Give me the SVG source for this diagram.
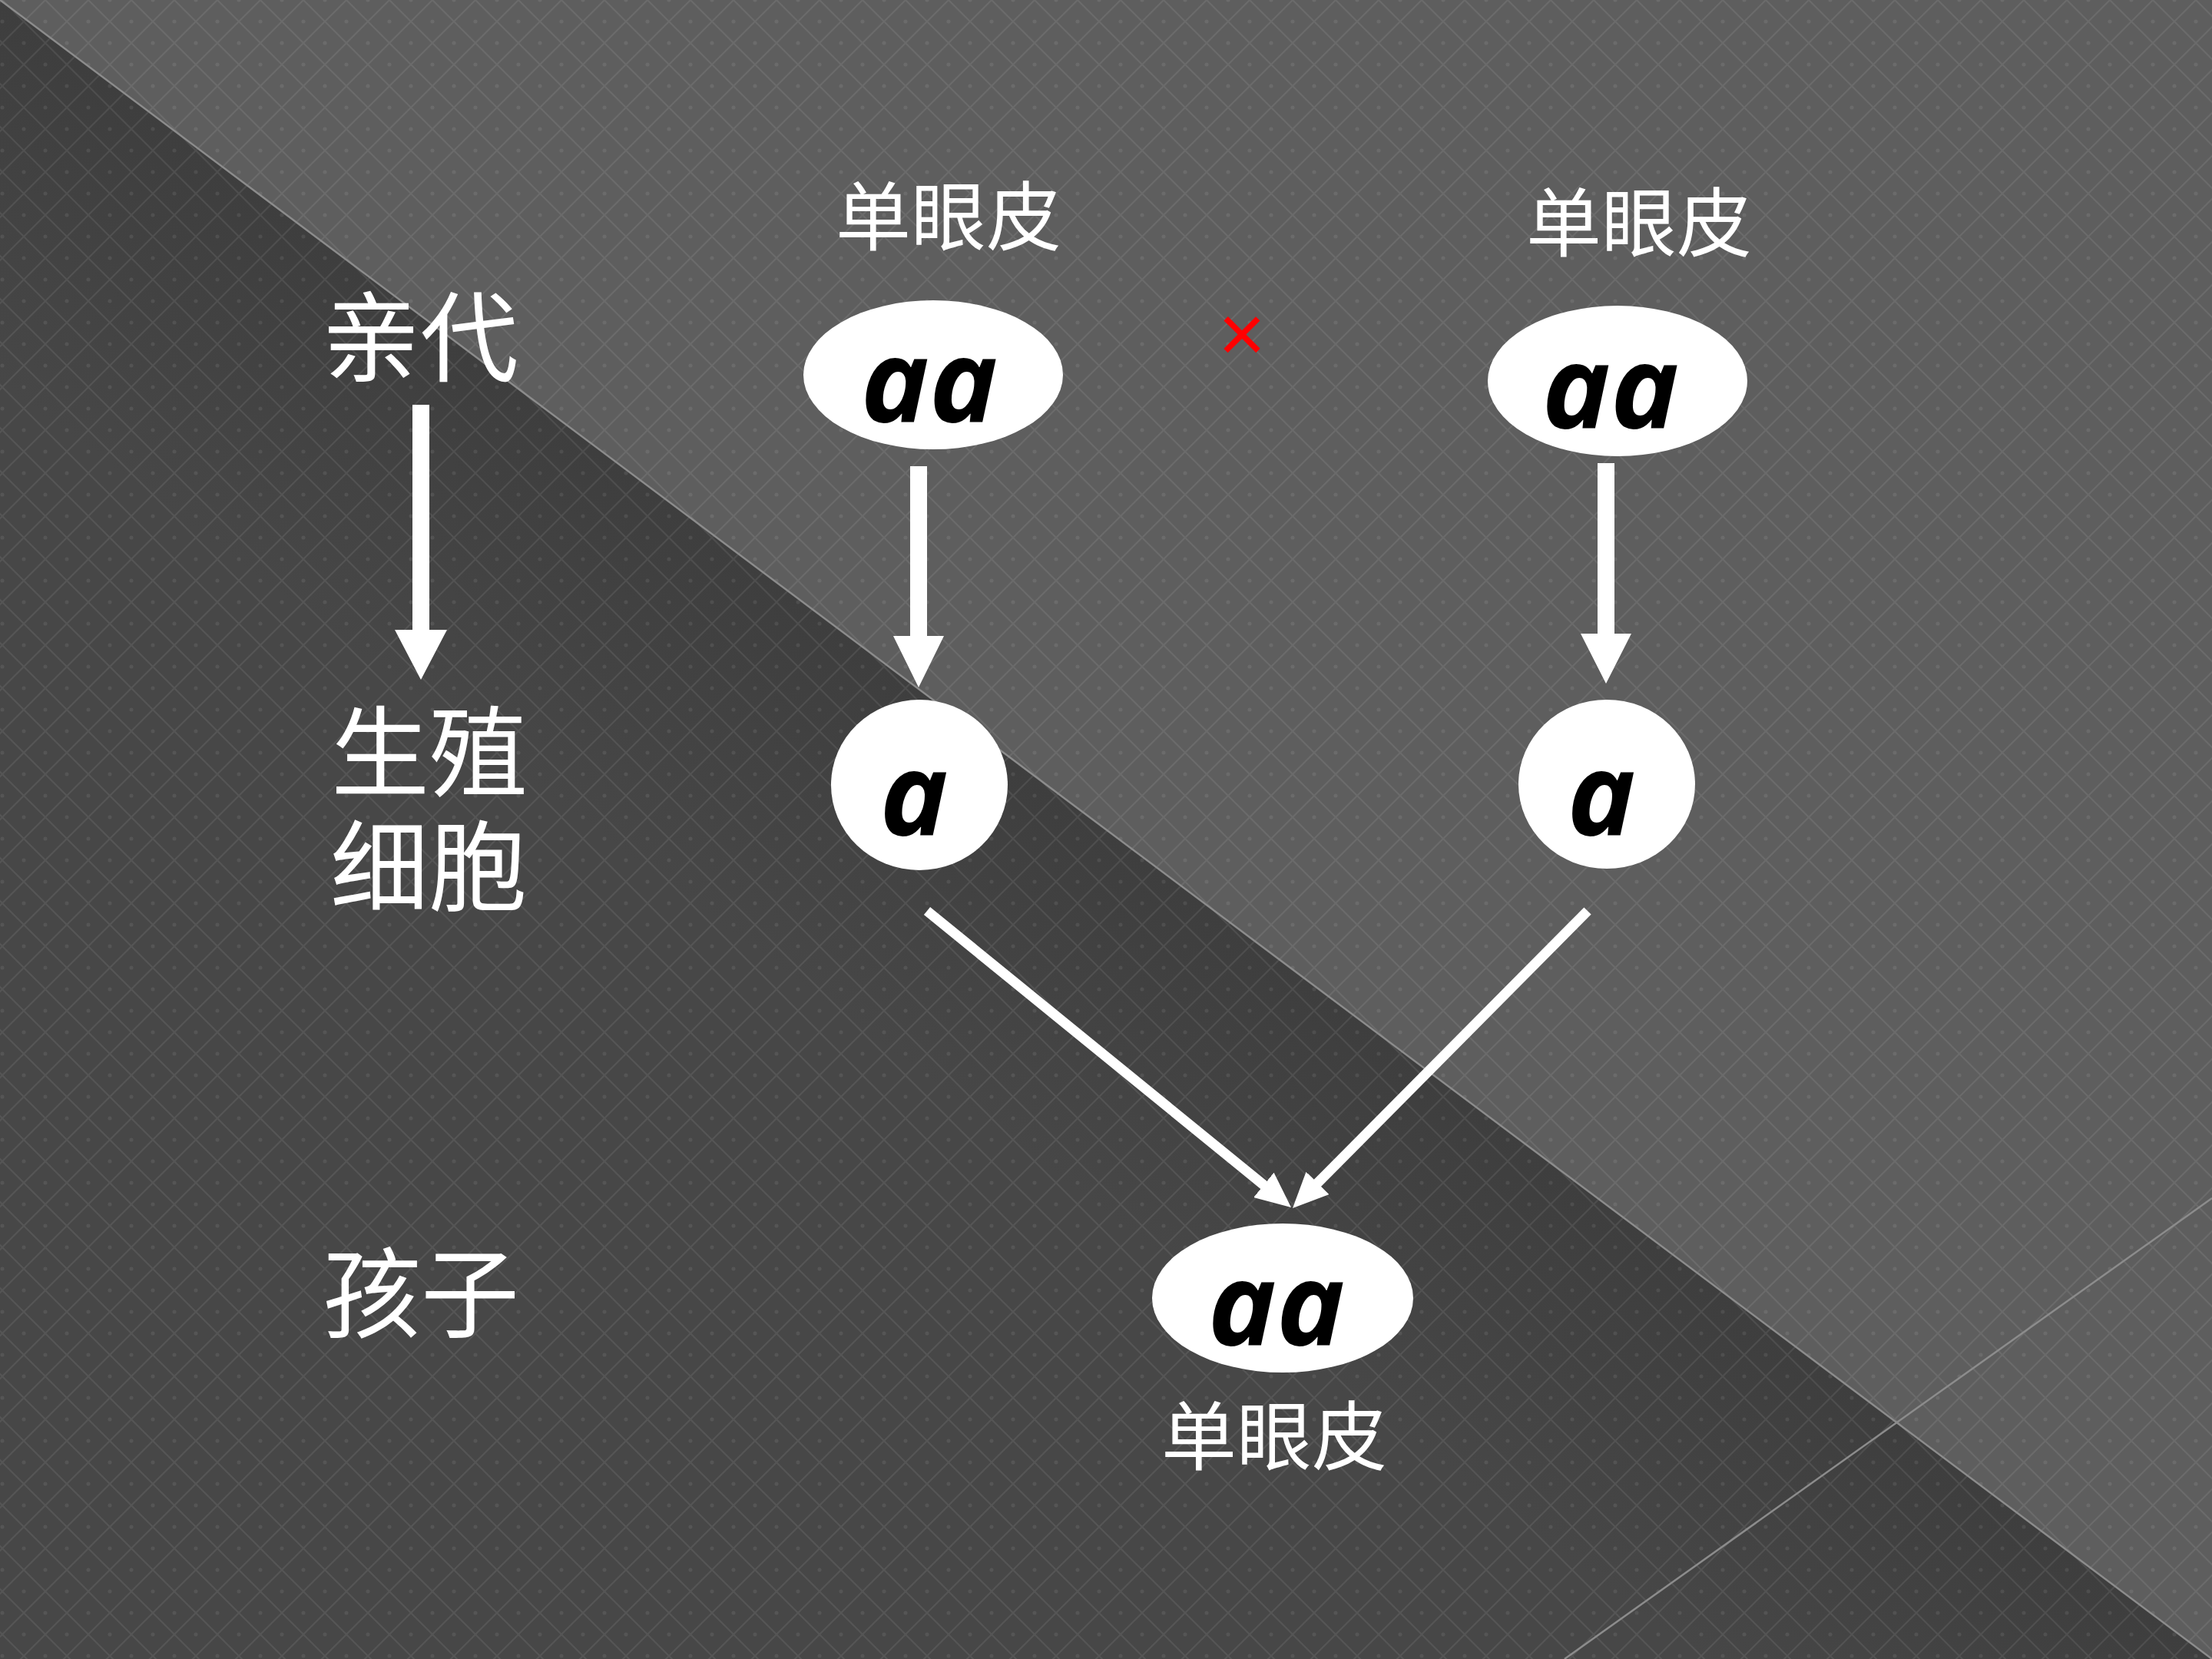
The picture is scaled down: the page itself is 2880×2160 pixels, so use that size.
<svg xmlns="http://www.w3.org/2000/svg" width="2880" height="2160" viewBox="0 0 2880 2160">
  <defs>
    <style>
      .cjk { font-family: "Noto Sans CJK SC", "Noto Sans", sans-serif; fill: #ffffff; text-anchor: middle; }
      .lbl { font-size: 98px; }
      .side { font-size: 128px; }
      .gene { font-family: "Open Sans", "Liberation Serif", serif; font-style: italic; font-weight: 700; fill: #000000; text-anchor: middle; font-size: 150px; }
      .node { fill: #ffffff; }
      .block { fill: #ffffff; }
      .diag { stroke: #ffffff; stroke-width: 13; fill: none; }
      .edge { stroke: #8c8c8c; stroke-width: 2.5; fill: none; }
    </style>
    <pattern id="grid" width="56" height="56" patternUnits="userSpaceOnUse" patternTransform="translate(3,0)">
      <path d="M0,0 L56,56 M56,0 L0,56" stroke="#ffffff" stroke-opacity="0.08" stroke-width="2"/>
      <circle cx="28" cy="0" r="2.5" fill="#ffffff" fill-opacity="0.08"/>
      <circle cx="28" cy="56" r="2.5" fill="#ffffff" fill-opacity="0.08"/>
      <circle cx="0" cy="28" r="2.5" fill="#ffffff" fill-opacity="0.08"/>
      <circle cx="56" cy="28" r="2.5" fill="#ffffff" fill-opacity="0.08"/>
    </pattern>
    <linearGradient id="shade" gradientUnits="userSpaceOnUse" x1="1440" y1="1080" x2="1200" y2="1400">
      <stop offset="0" stop-color="#3e3e3e"/>
      <stop offset="1" stop-color="#474747"/>
    </linearGradient>
    <marker id="head" markerUnits="userSpaceOnUse" markerWidth="46" markerHeight="42" viewBox="0 0 44 40" refX="14" refY="20" orient="auto">
      <path d="M0,0 L44,20 L0,40 Z" fill="#ffffff"/>
    </marker>
  </defs>

  <g id="background">
    <rect x="0" y="0" width="2880" height="2160" fill="#5e5e5e"/>
    <polygon points="0,0 2880,2160 0,2160" fill="url(#shade)"/>
    <rect x="0" y="0" width="2880" height="2160" fill="url(#grid)"/>
    <line class="edge" x1="0" y1="0" x2="2880" y2="2160"/>
    <line class="edge" x1="2880" y1="1560" x2="2037" y2="2160"/>
  </g>

  <g id="side-labels">
    <text class="cjk side" x="547" y="487">亲代</text>
    <text class="cjk side" y="1027"><tspan x="559">生殖</tspan><tspan x="558" dy="149">细胞</tspan></text>
    <text class="cjk side" x="548" y="1732">孩子</text>
  </g>

  <g id="connectors">
    <polygon class="block" points="537,527 559,527 559,820 582,820 548,885 514,820 537,820"/>
    <polygon class="block" points="1185,607 1207,607 1207,828 1229,828 1196,895 1163,828 1185,828"/>
    <polygon class="block" points="2080,603 2102,603 2102,825 2124,825 2091,890 2058,825 2080,825"/>
    <line class="diag" x1="1207" y1="1186" x2="1656.7" y2="1552.1" marker-end="url(#head)"/>
    <line class="diag" x1="2067" y1="1186" x2="1705.1" y2="1550.7" marker-end="url(#head)"/>
  </g>

  <g id="parent-left">
    <text class="cjk lbl" x="1235" y="318">单眼皮</text>
    <ellipse class="node" cx="1215" cy="488" rx="169" ry="97"/>
    <text class="gene" x="1210" y="550">aa</text>
  </g>

  <g id="cross-sign">
    <text x="1617" y="471" font-family="Liberation Sans, Arial, sans-serif" font-size="106" fill="#ff0000" text-anchor="middle">×</text>
  </g>

  <g id="parent-right">
    <text class="cjk lbl" x="2134" y="326">单眼皮</text>
    <ellipse class="node" cx="2106" cy="496" rx="169" ry="98"/>
    <text class="gene" x="2097" y="558">aa</text>
  </g>

  <g id="gamete-left">
    <ellipse class="node" cx="1197" cy="1022" rx="115" ry="111"/>
    <text class="gene" x="1190" y="1088">a</text>
  </g>

  <g id="gamete-right">
    <ellipse class="node" cx="2092" cy="1021" rx="115" ry="110"/>
    <text class="gene" x="2085" y="1088">a</text>
  </g>

  <g id="child">
    <ellipse class="node" cx="1670" cy="1690" rx="170" ry="97"/>
    <text class="gene" x="1662" y="1752">aa</text>
    <text class="cjk lbl" x="1659" y="1906">单眼皮</text>
  </g>
</svg>
